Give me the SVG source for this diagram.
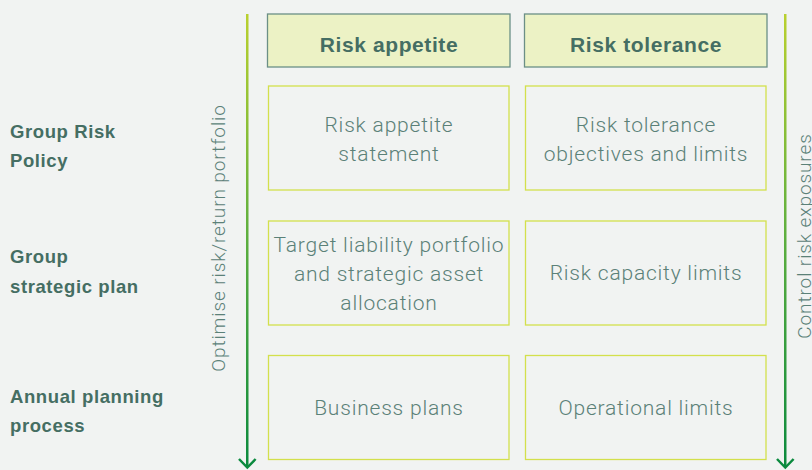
<svg xmlns="http://www.w3.org/2000/svg" width="812" height="470" viewBox="0 0 812 470">
<defs>
<linearGradient id="g" x1="0" y1="0" x2="0" y2="1">
<stop offset="0" stop-color="#b9d02f"/>
<stop offset="0.5" stop-color="#5cae3f"/>
<stop offset="1" stop-color="#0b8a3e"/>
</linearGradient>
<style>
.hd{fill:#ecf2c5;stroke:#6b8f86;stroke-width:1.3}
.bx{fill:none;stroke:#d3e04c;stroke-width:1.3}
.ht{font-family:"Liberation Sans",Arial,sans-serif;font-weight:700;font-size:21px;letter-spacing:0.6px;fill:#456e63;text-anchor:middle}
.bt{font-family:Roboto,"Liberation Sans",sans-serif;font-weight:300;font-size:21px;letter-spacing:0.8px;fill:#5b8178;text-anchor:middle}
.lt{font-family:"Liberation Sans",Arial,sans-serif;font-weight:700;font-size:18.5px;letter-spacing:0.6px;fill:#456e63}
.vt{font-family:Roboto,"Liberation Sans",sans-serif;font-weight:300;font-size:19px;letter-spacing:0.9px;fill:#5b8178;text-anchor:middle}
.ah{stroke:#0b8a3e;stroke-width:2.5;fill:none}
</style>
</defs>
<rect width="812" height="470" fill="#f1f3f2"/>
<g id="labels">
<text class="lt" x="10" y="138">Group Risk</text>
<text class="lt" x="10" y="167">Policy</text>
<text class="lt" x="10" y="263">Group</text>
<text class="lt" x="10" y="293">strategic plan</text>
<text class="lt" x="10" y="403">Annual planning</text>
<text class="lt" x="10" y="432">process</text>
<text class="vt" transform="translate(225,238) rotate(-90)">Optimise risk/return portfolio</text>
<text class="vt" transform="translate(811,236) rotate(-90)">Control risk exposures</text>
</g>
<g id="connectors">
<rect x="246" y="14" width="2.5" height="452" fill="url(#g)"/>
<rect x="784" y="14" width="2.5" height="452" fill="url(#g)"/>
<path class="ah" d="M239,459 L247.3,467.5 L255.6,459"/>
<path class="ah" d="M777,459 L785.3,467.5 L793.6,459"/>
</g>
<g id="head-appetite"><rect class="hd" x="267.5" y="14" width="242.5" height="53"/><text class="ht" x="389" y="52">Risk appetite</text></g>
<g id="head-tolerance"><rect class="hd" x="524.5" y="14" width="242.5" height="53"/><text class="ht" x="646" y="52">Risk tolerance</text></g>
<g id="n1"><rect class="bx" x="268.5" y="86" width="240.5" height="104"/><text class="bt" x="389" y="132">Risk appetite</text><text class="bt" x="389" y="161">statement</text></g>
<g id="n2"><rect class="bx" x="525.5" y="86" width="240.5" height="104"/><text class="bt" x="646" y="132">Risk tolerance</text><text class="bt" x="646" y="161">objectives and limits</text></g>
<g id="n3"><rect class="bx" x="268.5" y="221" width="240.5" height="104"/><text class="bt" x="389" y="252">Target liability portfolio</text><text class="bt" x="389" y="281">and strategic asset</text><text class="bt" x="389" y="310">allocation</text></g>
<g id="n4"><rect class="bx" x="525.5" y="221" width="240.5" height="104"/><text class="bt" x="646" y="280">Risk capacity limits</text></g>
<g id="n5"><rect class="bx" x="268.5" y="355.5" width="240.5" height="104"/><text class="bt" x="389" y="415">Business plans</text></g>
<g id="n6"><rect class="bx" x="525.5" y="355.5" width="240.5" height="104"/><text class="bt" x="646" y="415">Operational limits</text></g>
</svg>
